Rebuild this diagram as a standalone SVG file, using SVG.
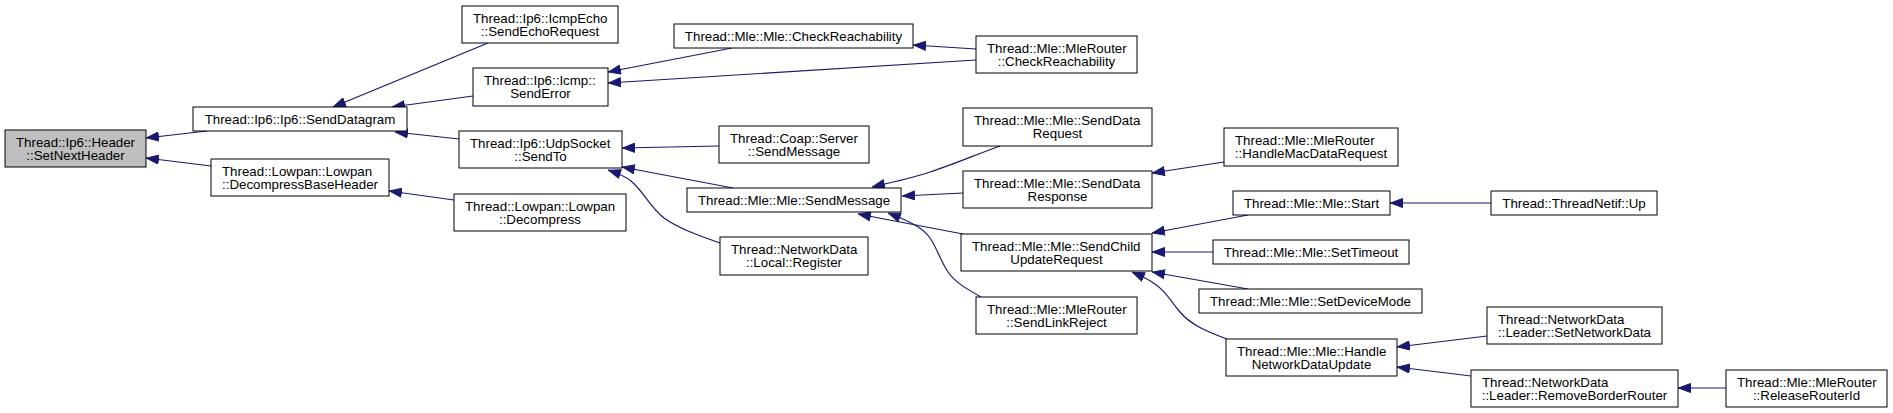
<svg xmlns="http://www.w3.org/2000/svg" width="1893" height="413" viewBox="0 0 1893 413">
<style>
.n rect{fill:#fff;stroke:#000;stroke-width:1}
.n.hl rect{fill:#bfbfbf}
.n text{font-family:"Liberation Sans",Arial,Helvetica,sans-serif;font-size:13.3px;fill:#000}
.c{text-anchor:middle}
.e path{fill:none;stroke:#191970;stroke-width:1.2;marker-end:url(#ah)}
</style>
<defs>
<marker id="ah" viewBox="0 0 13 10" refX="13" refY="5" markerWidth="13" markerHeight="10" markerUnits="userSpaceOnUse" orient="auto">
<path d="M0.5,0.5 L12.5,5 L0.5,9.5 z" fill="#191970" stroke="#191970"/>
</marker>
</defs>
<rect width="1893" height="413" fill="#fff"/>
<g id="edges" class="e">
<path d="M207,131 L146,138"/>
<path d="M211,166 L146,158"/>
<path d="M488,43 L333,107"/>
<path d="M473,96 L392,107"/>
<path d="M459,139 L395,132"/>
<path d="M454,200 L389,191"/>
<path d="M732,48 L608,72"/>
<path d="M976,60 L608,83"/>
<path d="M976,49 L913,45"/>
<path d="M719,146 L622,148"/>
<path d="M733,188 L622,167"/>
<path d="M720,243 C697,235 678,228 664,218 C650,207 644,192 631,181 C625,176 617,173 608,170"/>
<path d="M1000,146 C975,155 952,165 930,172 C913,178 893,182 872,187"/>
<path d="M963,193 L902,196"/>
<path d="M963,234 L858,214"/>
<path d="M981,297 C965,288 955,282 948,272 C940,260 937,248 930,238 C924,229 912,222 888,213"/>
<path d="M1224,162 L1152,173"/>
<path d="M1248,215 L1152,233"/>
<path d="M1213,252 L1152,252"/>
<path d="M1248,289 L1152,272"/>
<path d="M1227,339 C1205,331 1190,324 1180,312 C1170,300 1165,290 1152,282 C1146,278 1139,275 1132,272"/>
<path d="M1491,203 L1390,203"/>
<path d="M1487,336 L1397,347"/>
<path d="M1471,376 L1397,367"/>
<path d="M1726,388 L1678,388"/>
</g>
<g id="n_SetNextHeader" class="n hl"><rect x="5" y="130" width="141" height="37"/><text x="16" y="146.5">Thread::Ip6::Header</text><text class="c" x="75.5" y="159.8">::SetNextHeader</text></g>
<g id="n_SendDatagram" class="n"><rect x="193" y="107" width="214" height="24"/><text class="c" x="300" y="123.7">Thread::Ip6::Ip6::SendDatagram</text></g>
<g id="n_DecompressBaseHeader" class="n"><rect x="211" y="159" width="178" height="37"/><text x="222" y="175.5">Thread::Lowpan::Lowpan</text><text class="c" x="300" y="188.8">::DecompressBaseHeader</text></g>
<g id="n_SendEchoRequest" class="n"><rect x="462" y="6" width="156" height="37"/><text x="473" y="22.5">Thread::Ip6::IcmpEcho</text><text class="c" x="540" y="35.8">::SendEchoRequest</text></g>
<g id="n_SendError" class="n"><rect x="473" y="68" width="135" height="38"/><text x="484" y="85">Thread::Ip6::Icmp::</text><text class="c" x="540.5" y="98.3">SendError</text></g>
<g id="n_SendTo" class="n"><rect x="459" y="131" width="163" height="37"/><text x="470" y="147.5">Thread::Ip6::UdpSocket</text><text class="c" x="540.5" y="160.8">::SendTo</text></g>
<g id="n_Decompress" class="n"><rect x="454" y="194" width="172" height="37"/><text x="465" y="210.5">Thread::Lowpan::Lowpan</text><text class="c" x="540" y="223.8">::Decompress</text></g>
<g id="n_MleCheckReachability" class="n"><rect x="674" y="24" width="239" height="24"/><text class="c" x="793.5" y="40.7">Thread::Mle::Mle::CheckReachability</text></g>
<g id="n_MleRouterCheckReachability" class="n"><rect x="976" y="36" width="161" height="37"/><text x="987" y="52.5">Thread::Mle::MleRouter</text><text class="c" x="1056.5" y="65.8">::CheckReachability</text></g>
<g id="n_CoapSendMessage" class="n"><rect x="719" y="126" width="150" height="37"/><text x="730" y="142.5">Thread::Coap::Server</text><text class="c" x="794" y="155.8">::SendMessage</text></g>
<g id="n_MleSendMessage" class="n"><rect x="687" y="188" width="214" height="24"/><text class="c" x="794" y="204.7">Thread::Mle::Mle::SendMessage</text></g>
<g id="n_Register" class="n"><rect x="720" y="237" width="148" height="38"/><text x="731" y="254">Thread::NetworkData</text><text class="c" x="794" y="267.3">::Local::Register</text></g>
<g id="n_SendDataRequest" class="n"><rect x="963" y="108" width="189" height="38"/><text x="974" y="125">Thread::Mle::Mle::SendData</text><text class="c" x="1057.5" y="138.3">Request</text></g>
<g id="n_SendDataResponse" class="n"><rect x="963" y="171" width="189" height="37"/><text x="974" y="187.5">Thread::Mle::Mle::SendData</text><text class="c" x="1057.5" y="200.8">Response</text></g>
<g id="n_SendChildUpdateRequest" class="n"><rect x="961" y="234" width="191" height="37"/><text x="972" y="250.5">Thread::Mle::Mle::SendChild</text><text class="c" x="1056.5" y="263.8">UpdateRequest</text></g>
<g id="n_SendLinkReject" class="n"><rect x="976" y="297" width="161" height="37"/><text x="987" y="313.5">Thread::Mle::MleRouter</text><text class="c" x="1056.5" y="326.8">::SendLinkReject</text></g>
<g id="n_HandleMacDataRequest" class="n"><rect x="1224" y="128" width="174" height="38"/><text x="1235" y="145">Thread::Mle::MleRouter</text><text class="c" x="1311" y="158.3">::HandleMacDataRequest</text></g>
<g id="n_Start" class="n"><rect x="1233" y="191" width="157" height="24"/><text class="c" x="1311.5" y="207.7">Thread::Mle::Mle::Start</text></g>
<g id="n_SetTimeout" class="n"><rect x="1213" y="240" width="196" height="24"/><text class="c" x="1311" y="256.7">Thread::Mle::Mle::SetTimeout</text></g>
<g id="n_SetDeviceMode" class="n"><rect x="1199" y="289" width="223" height="24"/><text class="c" x="1310.5" y="305.7">Thread::Mle::Mle::SetDeviceMode</text></g>
<g id="n_HandleNetworkDataUpdate" class="n"><rect x="1226" y="339" width="171" height="37"/><text x="1237" y="355.5">Thread::Mle::Mle::Handle</text><text class="c" x="1311.5" y="368.8">NetworkDataUpdate</text></g>
<g id="n_ThreadNetifUp" class="n"><rect x="1491" y="191" width="166" height="24"/><text class="c" x="1574" y="207.7">Thread::ThreadNetif::Up</text></g>
<g id="n_SetNetworkData" class="n"><rect x="1487" y="307" width="175" height="37"/><text x="1498" y="323.5">Thread::NetworkData</text><text class="c" x="1574.5" y="336.8">::Leader::SetNetworkData</text></g>
<g id="n_RemoveBorderRouter" class="n"><rect x="1471" y="370" width="207" height="37"/><text x="1482" y="386.5">Thread::NetworkData</text><text class="c" x="1574.5" y="399.8">::Leader::RemoveBorderRouter</text></g>
<g id="n_ReleaseRouterId" class="n"><rect x="1726" y="370" width="161" height="37"/><text x="1737" y="386.5">Thread::Mle::MleRouter</text><text class="c" x="1806.5" y="399.8">::ReleaseRouterId</text></g>
</svg>
